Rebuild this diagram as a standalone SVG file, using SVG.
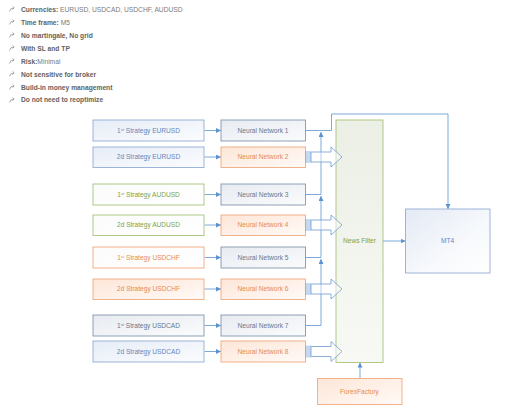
<svg xmlns="http://www.w3.org/2000/svg" width="512" height="418" viewBox="0 0 512 418">
<defs>
<style>
.bl{font-family:"Liberation Sans",Arial,sans-serif;font-size:6.7px;fill:#626262}
.b{font-weight:bold}
.n{font-weight:normal;fill:#7a7a7a}
.ic{fill:none;stroke:#a0a0a0;stroke-width:0.9}
.t{font-family:"Liberation Sans",Arial,sans-serif;font-size:6.6px;text-anchor:middle}
.tb{fill:#6486bb}
.td{fill:#66788f}
.tg{fill:#7da347}
.to{fill:#e58a52}
.bx{stroke-width:0.9}
.sb{stroke:#93add5}
.sd{stroke:#8497ae}
.sg{stroke:#a7c47d}
.so{stroke:#f0a97e}
.ln{fill:none;stroke:#6c9fd6;stroke-width:0.9}
.ba{fill:#ffffff;fill-opacity:0.45;stroke:#7ea6d8;stroke-width:0.9}
.bar{stroke:#6c9fd6;stroke-width:0.8}
</style>
<linearGradient id="gB" x1="0" y1="0" x2="1" y2="1"><stop offset="0" stop-color="#e6edf7"/><stop offset="1" stop-color="#fbfcfe"/></linearGradient>
<linearGradient id="gD" x1="0" y1="0" x2="1" y2="1"><stop offset="0" stop-color="#e7ebf1"/><stop offset="1" stop-color="#fafbfc"/></linearGradient>
<linearGradient id="gO" x1="0" y1="0" x2="1" y2="1"><stop offset="0" stop-color="#fde6d7"/><stop offset="1" stop-color="#fffaf7"/></linearGradient>
<linearGradient id="gW" x1="0" y1="0" x2="1" y2="1"><stop offset="0" stop-color="#fbfbfb"/><stop offset="1" stop-color="#ffffff"/></linearGradient>
<linearGradient id="gN" x1="0" y1="0" x2="0" y2="1"><stop offset="0" stop-color="#ebefe5"/><stop offset="1" stop-color="#f8f9f5"/></linearGradient>
<linearGradient id="gM" x1="0" y1="0" x2="1" y2="1"><stop offset="0" stop-color="#e3eaf5"/><stop offset="0.6" stop-color="#f7f9fc"/><stop offset="1" stop-color="#ffffff"/></linearGradient>
<marker id="ah" markerUnits="userSpaceOnUse" markerWidth="6" markerHeight="6" refX="5" refY="2.5" orient="auto"><path d="M0,0 L5,2.5 L0,5 z" fill="#5b93d2"/></marker>
</defs>

<g id="bullets">
<path class="ic" d="M9.5,11.5 Q10,8 14,8 M12.5,6.5 L14.2,8 L12.5,9.5"/>
<text class="bl" x="21" y="11.8"><tspan class="b">Currencies:</tspan><tspan class="n"> EURUSD, USDCAD, USDCHF, AUDUSD</tspan></text>
<path class="ic" d="M9.5,24.5 Q10,21 14,21 M12.5,19.5 L14.2,21 L12.5,22.5"/>
<text class="bl" x="21" y="24.8"><tspan class="b">Time frame:</tspan><tspan class="n"> M5</tspan></text>
<path class="ic" d="M9.5,37.5 Q10,34 14,34 M12.5,32.5 L14.2,34 L12.5,35.5"/>
<text class="bl b" x="21" y="37.7">No martingale, No grid</text>
<path class="ic" d="M9.5,50.5 Q10,47 14,47 M12.5,45.5 L14.2,47 L12.5,48.5"/>
<text class="bl b" x="21" y="50.7">With SL and TP</text>
<path class="ic" d="M9.5,63.5 Q10,60 14,60 M12.5,58.5 L14.2,60 L12.5,61.5"/>
<text class="bl" x="21" y="63.6"><tspan class="b">Risk:</tspan><tspan class="n">Minimal</tspan></text>
<path class="ic" d="M9.5,76.5 Q10,73 14,73 M12.5,71.5 L14.2,73 L12.5,74.5"/>
<text class="bl b" x="21" y="76.5">Not sensitive for broker</text>
<path class="ic" d="M9.5,89.5 Q10,86 14,86 M12.5,84.5 L14.2,86 L12.5,87.5"/>
<text class="bl b" x="21" y="89.5">Build-in money management</text>
<path class="ic" d="M9.5,102.5 Q10,99 14,99 M12.5,97.5 L14.2,99 L12.5,100.5"/>
<text class="bl b" x="21" y="102.4">Do not need to reoptimize</text>
</g>

<g id="connectors">
<line class="ln" x1="204.5" y1="130.5" x2="221" y2="130.5" marker-end="url(#ah)"/>
<line class="ln" x1="204.5" y1="157" x2="221" y2="157" marker-end="url(#ah)"/>
<line class="ln" x1="204.5" y1="194.5" x2="221" y2="194.5" marker-end="url(#ah)"/>
<line class="ln" x1="204.5" y1="225" x2="221" y2="225" marker-end="url(#ah)"/>
<line class="ln" x1="204.5" y1="257.5" x2="221" y2="257.5" marker-end="url(#ah)"/>
<line class="ln" x1="204.5" y1="289" x2="221" y2="289" marker-end="url(#ah)"/>
<line class="ln" x1="204.5" y1="325.5" x2="221" y2="325.5" marker-end="url(#ah)"/>
<line class="ln" x1="204.5" y1="351.5" x2="221" y2="351.5" marker-end="url(#ah)"/>
<polyline class="ln" points="305.5,130.5 331.5,130.5 331.5,114 448,114 448,209" marker-end="url(#ah)"/>
<polyline class="ln" points="305.5,194.5 321,194.5"/>
<polyline class="ln" points="305.5,257.5 321,257.5"/>
<polyline class="ln" points="305.5,325.5 321,325.5 321,259" marker-end="url(#ah)"/>
<line class="ln" x1="321" y1="257.5" x2="321" y2="196" marker-end="url(#ah)"/>
<line class="ln" x1="321" y1="194.5" x2="321" y2="132" marker-end="url(#ah)"/>
<line class="ln" x1="383" y1="241" x2="405.5" y2="241" marker-end="url(#ah)"/>
<line class="ln" x1="360" y1="378.5" x2="360" y2="362.5" marker-end="url(#ah)"/>
</g>

<g id="strategy-1"><rect class="bx sb" x="93" y="120" width="111" height="21" fill="url(#gB)"/><text class="t tb" x="148.5" y="133"><tspan>1</tspan><tspan font-size="4.3" dy="-2.4">st</tspan><tspan dy="2.4"> Strategy EURUSD</tspan></text></g>
<g id="strategy-2"><rect class="bx sb" x="93" y="147" width="111" height="20.5" fill="url(#gB)"/><text class="t tb" x="148.5" y="159.3">2d Strategy EURUSD</text></g>
<g id="strategy-3"><rect class="bx sg" x="93" y="184" width="111" height="21" fill="url(#gW)"/><text class="t tg" x="148.5" y="197"><tspan>1</tspan><tspan font-size="4.3" dy="-2.4">st</tspan><tspan dy="2.4"> Strategy AUDUSD</tspan></text></g>
<g id="strategy-4"><rect class="bx sg" x="93" y="215" width="111" height="20.5" fill="url(#gW)"/><text class="t tg" x="148.5" y="227.3">2d Strategy AUDUSD</text></g>
<g id="strategy-5"><rect class="bx so" x="93" y="247" width="111" height="21" fill="url(#gW)"/><text class="t to" x="148.5" y="260"><tspan>1</tspan><tspan font-size="4.3" dy="-2.4">st</tspan><tspan dy="2.4"> Strategy USDCHF</tspan></text></g>
<g id="strategy-6"><rect class="bx so" x="93" y="279" width="111" height="20.5" fill="url(#gO)"/><text class="t to" x="148.5" y="291.3">2d Strategy USDCHF</text></g>
<g id="strategy-7"><rect class="bx sd" x="93" y="315" width="111" height="21" fill="url(#gD)"/><text class="t td" x="148.5" y="328"><tspan>1</tspan><tspan font-size="4.3" dy="-2.4">st</tspan><tspan dy="2.4"> Strategy USDCAD</tspan></text></g>
<g id="strategy-8"><rect class="bx sb" x="93" y="341" width="111" height="21" fill="url(#gB)"/><text class="t tb" x="148.5" y="354">2d Strategy USDCAD</text></g>

<g id="nn-1"><rect class="bx sd" x="221" y="120" width="84.5" height="21" fill="url(#gD)"/><text class="t td" x="263" y="133">Neural Network 1</text></g>
<g id="nn-2"><rect class="bx so" x="221" y="147" width="84.5" height="20.5" fill="url(#gO)"/><text class="t to" x="263" y="159.3">Neural Network 2</text></g>
<g id="nn-3"><rect class="bx sd" x="221" y="184" width="84.5" height="21" fill="url(#gD)"/><text class="t td" x="263" y="197">Neural Network 3</text></g>
<g id="nn-4"><rect class="bx so" x="221" y="215" width="84.5" height="20.5" fill="url(#gO)"/><text class="t to" x="263" y="227.3">Neural Network 4</text></g>
<g id="nn-5"><rect class="bx sd" x="221" y="247" width="84.5" height="21" fill="url(#gD)"/><text class="t td" x="263" y="260">Neural Network 5</text></g>
<g id="nn-6"><rect class="bx so" x="221" y="279" width="84.5" height="20.5" fill="url(#gO)"/><text class="t to" x="263" y="291.3">Neural Network 6</text></g>
<g id="nn-7"><rect class="bx sd" x="221" y="315" width="84.5" height="21" fill="url(#gD)"/><text class="t td" x="263" y="328">Neural Network 7</text></g>
<g id="nn-8"><rect class="bx so" x="221" y="341" width="84.5" height="21" fill="url(#gO)"/><text class="t to" x="263" y="354">Neural Network 8</text></g>

<g id="news-filter"><rect class="bx sg" x="336" y="120" width="47" height="242.5" fill="url(#gN)"/><text class="t tg" x="359.5" y="243.3">News Filter</text></g>
<g id="mt4"><rect class="bx sb" x="405.5" y="209" width="84.5" height="64" fill="url(#gM)"/><text class="t tb" x="447.5" y="243.3">MT4</text></g>
<g id="forexfactory"><rect class="bx so" x="317.5" y="378.5" width="84.5" height="26" fill="url(#gO)"/><text class="t to" x="359.5" y="393.8">ForexFactory</text></g>

<g id="block-arrows">
<path class="ba" d="M311,152 H331 V147 L342,157 L331,167 V162 H311 Z"/>
<path class="bar" d="M306,151 V163 M308,151 V163 M310,151 V163"/>
<path class="ba" d="M311,220 H331 V215 L342,225 L331,235 V230 H311 Z"/>
<path class="bar" d="M306,219 V231 M308,219 V231 M310,219 V231"/>
<path class="ba" d="M311,284 H331 V279 L342,289 L331,299 V294 H311 Z"/>
<path class="bar" d="M306,283 V295 M308,283 V295 M310,283 V295"/>
<path class="ba" d="M311,346.5 H331 V341.5 L342,351.5 L331,361.5 V356.5 H311 Z"/>
<path class="bar" d="M306,345.5 V357.5 M308,345.5 V357.5 M310,345.5 V357.5"/>
</g>
</svg>
